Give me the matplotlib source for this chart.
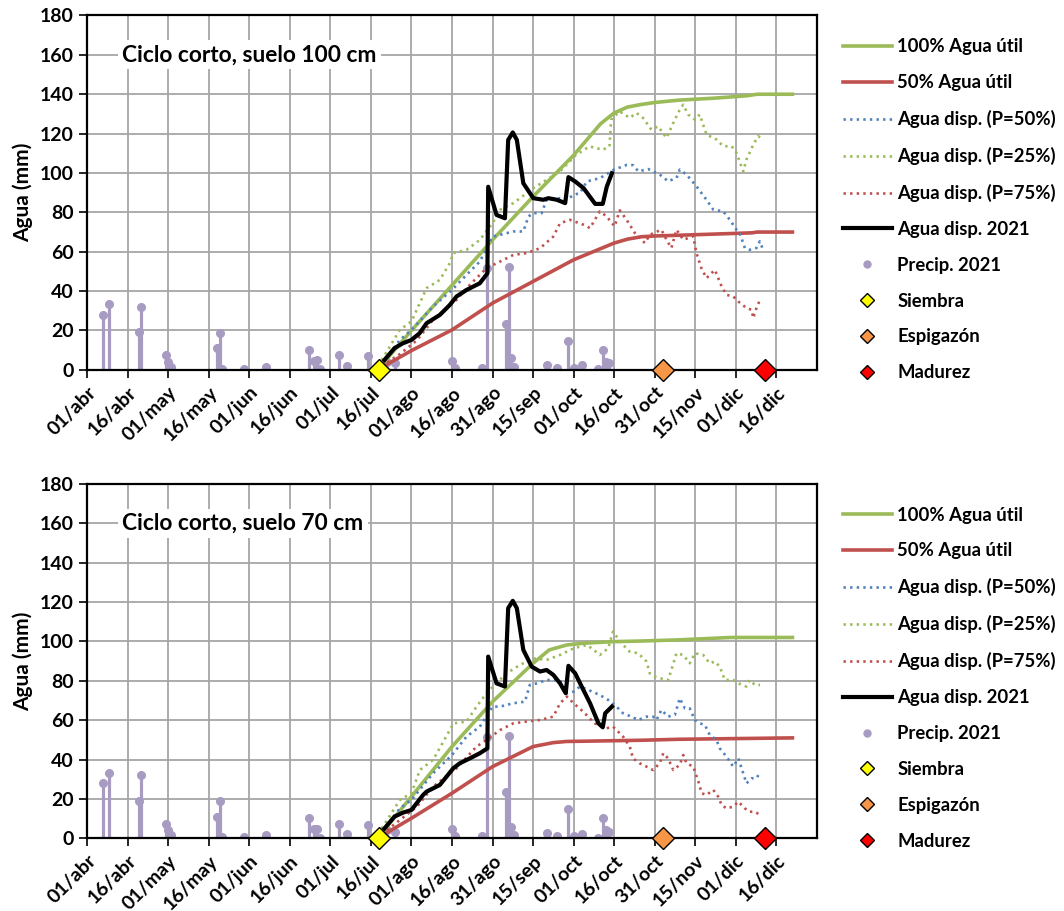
import numpy as np
import matplotlib
matplotlib.use('Agg')
import matplotlib.pyplot as plt
from matplotlib.lines import Line2D

plt.rcParams['font.family'] = ['Lato', 'DejaVu Sans']
plt.rcParams['font.weight'] = 'bold'

# Eje x: días desde el 01/abr, una marca cada 15 días
tick_dias = np.arange(0, 256, 15)
tick_etiquetas = ['01/abr', '16/abr', '01/may', '16/may', '01/jun', '16/jun', '01/jul',
                  '16/jul', '01/ago', '16/ago', '31/ago', '15/sep', '01/oct', '16/oct',
                  '31/oct', '15/nov', '01/dic', '16/dic']

# Fechas fenológicas (días desde 01/abr)
dia_siembra = 108
dia_espigazon = 213
dia_madurez = 251

# Precipitación 2021 (mm)
precip_dias = [6, 8, 19, 20, 29, 30, 31, 48, 49, 50, 58, 66, 82, 84, 85, 86, 93, 96, 104,
               111, 114, 135, 136, 146, 148, 155, 156, 157, 158, 170, 174, 178, 180, 183,
               189, 191, 192, 193]
precip_mm = [28, 33.4, 19, 32, 7.3, 4.2, 1.7, 11, 18.8, 0.5, 0.5, 1.7, 10.3, 4.6, 4.9, 0.3,
             7.3, 2.2, 6.8, 4.2, 3.4, 4.7, 1.2, 1.2, 51.6, 23.4, 52.2, 5.9, 1.7, 2.5, 1,
             14.9, 1, 2.4, 0.3, 10.2, 4.2, 3.4]

# ---- Suelo 100 cm ----
au100_s100_dias = [108, 120, 135, 150, 165, 180, 190, 195, 200, 205, 210, 219, 232, 244, 246, 248, 261]
au100_s100 = [1, 20, 43, 66, 88, 109, 125, 130.5, 133.5, 134.8, 135.8, 137, 138, 139.2, 139.6, 140, 140]

au50_s100_dias = [108, 120, 135, 150, 165, 180, 195, 200, 205, 210, 224, 246, 248, 261]
au50_s100 = [0.5, 9.8, 20.3, 33.9, 44.9, 55.9, 64.4, 66.4, 67.6, 68, 68.6, 69.6, 70, 70]

ad2021_s100_dias = [110, 113.7, 116.8, 120, 123, 125.6, 130.5, 134.2, 136.7, 140.4, 145.3, 148.1,
                    148.4, 151.5, 154.6, 155.8, 157.5, 159, 161.4, 165.1, 168.8, 170.7, 173.8,
                    176.9, 178.1, 180.6, 183.7, 188, 190.8, 192.3, 194.2]
ad2021_s100 = [5, 11, 13.5, 15.2, 18.6, 23.7, 27.9, 33, 37.3, 40.6, 44, 49, 93, 78.7, 77, 116.8,
               120.6, 116.8, 94.8, 87.2, 86.4, 87.2, 86.4, 84.7, 97.9, 95.7, 92.3, 84.3, 84.3,
               93.1, 99.9]

p50_s100_dias = [109, 115.7, 120, 128, 135, 140.4, 145.3, 150, 152.8, 157.7, 161.4, 163.3, 165.1,
                 168.2, 170, 175, 177.5, 180, 182.4, 184.9, 189.8, 194.8, 199.7, 202, 204, 207.6,
                 211.9, 215, 218.1, 219.3, 221.8, 225.5, 229.2, 231.7, 235.4, 237.8, 240.3,
                 241.5, 243.4, 245.2, 247.7, 248.9, 249.9]
p50_s100 = [3, 15.2, 20.3, 32.2, 40.6, 48.3, 55, 67.7, 68.6, 70.3, 70.3, 77.9, 79.6, 79.6, 86.4,
            87.2, 86.4, 88.9, 89.8, 95.7, 97.4, 101.6, 104.1, 104, 100.8, 102, 99.2, 95.8, 97.5,
            101.7, 99.2, 93.2, 86.4, 81.4, 80.5, 76.3, 71.2, 69.5, 61.9, 61, 61.9, 65.3, 61.9]

p25_s100_dias = [109, 115.7, 120, 125.6, 130.5, 134.2, 135.5, 140.4, 145.3, 150, 152.8, 157.7,
                 160.2, 165.1, 170, 175, 180.9, 185.9, 190.8, 193.3, 193.9, 197, 200.8, 203.3,
                 205.7, 208.8, 211.3, 214.4, 216.9, 219.3, 220.6, 222.4, 224.9, 226.7, 229.2,
                 232.9, 235.4, 238.5, 240.3, 242.8, 244, 246.5, 248.3, 249.6]
p25_s100 = [5, 20.3, 24.6, 41.5, 45.7, 54.2, 59.3, 61, 66, 74.5, 81.3, 84.7, 87.2, 92.3, 96.5,
            100.8, 109.2, 113.5, 111.8, 113.5, 127, 131.3, 128, 130.5, 128, 122, 123.7, 117.8,
            125.4, 132.2, 134.7, 129.7, 127.1, 129.7, 119.5, 117, 113.6, 113.6, 110.2, 100.8,
            106.8, 114.4, 118.6, 117.8]

p75_s100_dias = [109, 115.7, 122, 128, 136.7, 141.6, 147.8, 152.8, 157.7, 162.6, 167.6, 172.5,
                 175, 178.7, 183.7, 186.1, 189.7, 192.2, 195.2, 197.1, 199.6, 202.7, 206.4,
                 208.2, 212.5, 214.4, 216.2, 218.1, 220.6, 224.3, 225.5, 227.3, 229.2, 232.3,
                 234.8, 236.6, 239.1, 241, 244, 245.9, 246.5, 247.7, 249]
p75_s100 = [2, 8, 15, 25.4, 35.6, 43.2, 51.7, 55, 58.4, 59.3, 61.8, 67.7, 74.5, 76.2, 73.7, 72,
            80.5, 78, 72.9, 81, 76.3, 69.5, 64.4, 68.6, 71.2, 66.1, 61.9, 71.2, 66.1, 67.8, 59.3,
            51.7, 46.6, 50.8, 42.4, 38.1, 37.3, 34.7, 31.4, 30.5, 26.3, 31.4, 35.6]

# ---- Suelo 70 cm ----
au100_s70_dias = [108, 120, 135, 150, 165, 171, 177.5, 183.7, 195, 205, 219, 238, 261]
au100_s70 = [1, 21.2, 46.6, 69.4, 88.9, 95.7, 98.2, 99.1, 99.9, 100.2, 100.8, 102, 102]

au50_s70_dias = [108, 120, 135, 150, 165, 172.5, 177.5, 183, 205, 219, 261]
au50_s70 = [0.5, 10.2, 22.9, 36.4, 46.6, 48.6, 49.2, 49.3, 49.8, 50.3, 51]

ad2021_s70_dias = [110, 113.7, 116.8, 120, 124.3, 125.6, 130.5, 135.5, 137.9, 141.6, 145.3, 148.1,
                   148.4, 151.5, 154.6, 155.8, 157.5, 159, 161.4, 164.5, 167.6, 170, 172.5, 175,
                   177.1, 178.1, 180.6, 183, 186.1, 189.2, 190.8, 191.7, 194.2]
ad2021_s70 = [5, 11, 13, 14.4, 22, 23.7, 27.1, 35.6, 38.1, 40.6, 43.2, 45.7, 92.3, 78.7, 77.1,
              116.9, 120.6, 116.9, 95.7, 87.2, 84.7, 85.5, 83, 78.7, 73.7, 87.6, 83.8, 77.1,
              68.6, 58.4, 56.4, 63.5, 66.9]

p50_s70_dias = [109, 115.7, 120, 128, 135, 140.4, 145.3, 150, 152.8, 157.7, 162, 163.8, 166.4,
                170, 175, 177.5, 180, 182.4, 185.4, 189.7, 192.8, 195.9, 198.3, 201.4, 203.9,
                207, 209.4, 210.7, 212.5, 215, 217.5, 219.3, 221.2, 223, 224.9, 226.7, 228.6,
                230.4, 232.9, 234.1, 236.6, 239.1, 241, 242.8, 244, 245.9, 247.7, 249]
p50_s70 = [3, 15.2, 19.5, 33, 42.3, 51.7, 56.7, 66.9, 66.9, 68.6, 69.4, 77.9, 78.7, 80.4, 80.4,
           73.7, 74.5, 77.1, 75.4, 72.8, 70.3, 66.9, 63.5, 61.8, 60.1, 61.8, 61.8, 60.1, 65.2,
           61.8, 62.7, 71.1, 66, 66, 60.1, 58.4, 57.6, 52.5, 50, 45.7, 41.5, 36.4, 40.6, 33,
           27.9, 30.5, 30.5, 33.4]

p25_s70_dias = [109, 115.7, 120, 123.1, 128, 134.2, 135.5, 140.4, 144.1, 147.8, 150.2, 155.2,
                160.2, 165.1, 170, 175, 180, 184.9, 187.2, 189.7, 192.8, 194.6, 197.7, 200.8,
                203.9, 207, 208.2, 210.1, 212, 215, 216.2, 218.1, 220.6, 223, 224.9, 228, 230.4,
                232.3, 234.1, 236, 239.1, 241, 244, 245.2, 247.1, 249]
p25_s70 = [5, 19.5, 22.9, 34.7, 39.8, 55, 58.4, 59.3, 66.9, 73.7, 77.1, 83.8, 88.1, 91.4, 90.6,
           93.1, 96.5, 98.2, 96, 93.1, 96.5, 105, 99.1, 94.8, 94, 89.8, 83.8, 82.1, 81.3, 80.4,
           85.5, 94, 93.1, 88.9, 94, 93.1, 88.9, 89.8, 87.2, 80.4, 80.4, 78.7, 77.1, 80.4, 77.9,
           77.9]

p75_s70_dias = [109, 115.7, 122, 128, 136.7, 144.1, 147.8, 152.8, 157.7, 162.6, 167.6, 172.5,
                175, 177.5, 180, 183.5, 187.8, 192.2, 194.6, 195.9, 198.3, 200.8, 202, 204.5,
                207, 209.4, 211.9, 213.2, 215, 216.9, 219.3, 220.6, 221.8, 224.3, 226.2, 227.4,
                229.2, 231.7, 233.5, 234.8, 236.6, 239.1, 241, 243.4, 245.2, 247.1, 249]
p75_s70 = [2, 9.3, 16, 26.2, 35.6, 46.6, 50, 55, 58.4, 59.3, 60.1, 61.8, 68.6, 72, 68.6, 64.4,
           58.4, 55.9, 56.7, 55, 51.7, 46.6, 40.6, 38.1, 36.4, 34.7, 38.1, 43.2, 40.6, 34.7,
           37.3, 42.3, 38.1, 36.4, 28.8, 22.9, 22, 24.6, 21.2, 16.9, 15.2, 16.1, 18.6, 15.2,
           13.5, 13.5, 11.9]

VERDE = '#9BBB59'
ROJO = '#C0504D'
AZUL = '#4F81BD'
LILA = '#A79BC2'
PUNTEADO = (0, (0.9, 1.6))


def dibujar_panel(ax, titulo, au100, au50, p50, p25, p75, ad2021):
    """
    Dibuja un panel de balance hídrico con precipitación y fechas fenológicas
    """
    ax.vlines(precip_dias, 0, precip_mm, color=LILA, lw=2.3, zorder=2)
    ax.plot(precip_dias, precip_mm, 'o', color=LILA, ms=5.5, zorder=2)

    ax.plot(*au100, color=VERDE, lw=2.6, zorder=3)
    ax.plot(*au50, color=ROJO, lw=2.6, zorder=3)
    ax.plot(*p50, color=AZUL, lw=1.9, ls=PUNTEADO, zorder=3)
    ax.plot(*p25, color=VERDE, lw=1.9, ls=PUNTEADO, zorder=3)
    ax.plot(*p75, color=ROJO, lw=1.9, ls=PUNTEADO, zorder=3)
    ax.plot(*ad2021, color='black', lw=3.0, zorder=4)

    # Siembra, espigazón y madurez sobre el eje
    for dia, color in [(dia_siembra, '#FFFF00'), (dia_espigazon, '#F79646'), (dia_madurez, '#FF0000')]:
        ax.plot(dia, 0, 'D', color=color, mec='black', mew=1.0, ms=11, zorder=6, clip_on=False)

    ax.set_xlim(0, 270)
    ax.set_ylim(0, 180)
    ax.set_xticks(tick_dias)
    ax.set_xticks([270], minor=True)
    ax.set_xticklabels(tick_etiquetas, rotation=45, ha='right', rotation_mode='anchor',
                       fontsize=14, fontweight='bold')
    ax.set_yticks(np.arange(0, 181, 20))
    ax.tick_params(axis='y', labelsize=14, length=6, width=1.2)
    ax.tick_params(axis='x', length=6, width=1.2, pad=4)
    ax.tick_params(axis='x', which='minor', length=0)
    for lab in ax.get_yticklabels():
        lab.set_fontweight('bold')
    ax.grid(True, which='both', color='#A6A6A6', lw=1.3)
    ax.set_axisbelow(True)
    for sp in ax.spines.values():
        sp.set_linewidth(1.6)
    ax.set_ylabel('Agua (mm)', fontsize=15, fontweight='bold', labelpad=5)

    ax.text(13, 160, titulo, fontsize=16.4, fontweight='bold', va='center', ha='left', zorder=7,
            bbox=dict(facecolor='white', edgecolor='none', pad=3))


def leyenda(fig, y_top):
    """
    Leyenda a la derecha del panel
    """
    handles = [
        Line2D([], [], color=VERDE, lw=2.6),
        Line2D([], [], color=ROJO, lw=2.6),
        Line2D([], [], color=AZUL, lw=1.9, ls=PUNTEADO),
        Line2D([], [], color=VERDE, lw=1.9, ls=PUNTEADO),
        Line2D([], [], color=ROJO, lw=1.9, ls=PUNTEADO),
        Line2D([], [], color='black', lw=3.0),
        Line2D([], [], ls='none', marker='o', color=LILA, ms=5),
        Line2D([], [], ls='none', marker='D', color='#FFFF00', mec='black', ms=7),
        Line2D([], [], ls='none', marker='D', color='#F79646', mec='black', ms=7),
        Line2D([], [], ls='none', marker='D', color='#FF0000', mec='black', ms=7),
    ]
    labels = ['100% Agua útil', '50% Agua útil', 'Agua disp. (P=50%)', 'Agua disp. (P=25%)',
              'Agua disp. (P=75%)', 'Agua disp. 2021', 'Precip. 2021', 'Siembra', 'Espigazón',
              'Madurez']
    fig.legend(handles, labels, loc='upper left', bbox_to_anchor=(0.785, y_top), frameon=False,
               prop={'weight': 'bold', 'size': 13.3}, handlelength=2.65, handletextpad=0.3,
               labelspacing=1.02, borderaxespad=0)


fig = plt.figure(figsize=(10.64, 9.11), dpi=100)
ax1 = fig.add_axes([0.082, 0.594, 0.6856, 0.389])
ax2 = fig.add_axes([0.082, 0.0798, 0.6856, 0.389])

dibujar_panel(ax1, 'Ciclo corto, suelo 100 cm',
              (au100_s100_dias, au100_s100), (au50_s100_dias, au50_s100),
              (p50_s100_dias, p50_s100), (p25_s100_dias, p25_s100),
              (p75_s100_dias, p75_s100), (ad2021_s100_dias, ad2021_s100))
dibujar_panel(ax2, 'Ciclo corto, suelo 70 cm',
              (au100_s70_dias, au100_s70), (au50_s70_dias, au50_s70),
              (p50_s70_dias, p50_s70), (p25_s70_dias, p25_s70),
              (p75_s70_dias, p75_s70), (ad2021_s70_dias, ad2021_s70))

leyenda(fig, 0.966)
leyenda(fig, 0.452)

fig.savefig('out.png', dpi=100)
